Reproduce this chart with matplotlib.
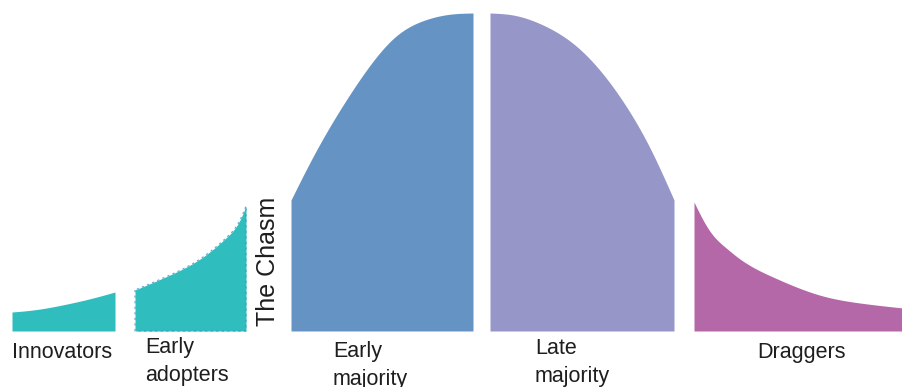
import numpy as np
import matplotlib
matplotlib.use("Agg")
import matplotlib.pyplot as plt

plt.rcParams["font.family"] = ["Liberation Sans", "DejaVu Sans"]

# Adopter groups along the technology adoption life cycle
groups = ["Innovators", "Early\nadopters", "Early\nmajority", "Late\nmajority", "Draggers"]
colors = ["#2fbdbd", "#2fbdbd", "#6594c4", "#9696c8", "#b468a8"]

# Outline of each piece of the adoption curve: horizontal position and height
innovators_x = [12, 33, 67, 93, 115]
innovators_h = [19, 21, 27, 33, 39]

early_adopters_x = [135, 170, 203, 227, 240, 246]
early_adopters_h = [41, 56, 74, 94, 111, 125]

early_majority_x = [291, 305, 325, 345, 368, 395, 425, 452, 473]
early_majority_h = [131, 159, 196, 229, 263, 294, 311, 317, 318]

late_majority_x = [490, 513, 543, 575, 620, 652, 674]
late_majority_h = [318, 316, 306, 286, 234, 179, 131]

draggers_x = [694, 702, 712, 725, 740, 773, 823, 860, 903]
draggers_h = [129, 113, 97, 84, 72, 54, 35, 28, 23]

pieces_x = [innovators_x, early_adopters_x, early_majority_x, late_majority_x, draggers_x]
pieces_h = [innovators_h, early_adopters_h, early_majority_h, late_majority_h, draggers_h]

# Label anchors (left x, top y) for each group
label_x = [12, 145, 333, 535, 757]
label_y = [-11, -6, -10, -7, -11]

chasm_label = "The Chasm"
chasm_x = 268
chasm_y = 70


def smooth_outline(xp, yp, n=400):
    """Natural cubic spline through the outline points."""
    xp = np.asarray(xp, float)
    yp = np.asarray(yp, float)
    m = len(xp)
    hx = np.diff(xp)
    A = np.zeros((m, m))
    r = np.zeros(m)
    A[0, 0] = A[-1, -1] = 1.0
    for k in range(1, m - 1):
        A[k, k - 1] = hx[k - 1]
        A[k, k] = 2 * (hx[k - 1] + hx[k])
        A[k, k + 1] = hx[k]
        r[k] = 6 * ((yp[k + 1] - yp[k]) / hx[k] - (yp[k] - yp[k - 1]) / hx[k - 1])
    M = np.linalg.solve(A, r)
    xs = np.linspace(xp[0], xp[-1], n)
    idx = np.clip(np.searchsorted(xp, xs) - 1, 0, m - 2)
    h = hx[idx]
    a = xp[idx + 1] - xs
    b = xs - xp[idx]
    ys = (M[idx] * a ** 3 / (6 * h) + M[idx + 1] * b ** 3 / (6 * h)
          + (yp[idx] / h - M[idx] * h / 6) * a
          + (yp[idx + 1] / h - M[idx + 1] * h / 6) * b)
    return xs, ys


fig = plt.figure(figsize=(9.03, 3.87), dpi=100)
ax = fig.add_axes([0, 0, 1, 1])
ax.set_xlim(0, 903)
ax.set_ylim(-56, 331)
ax.axis("off")

for i, name in enumerate(groups):
    xs, ys = smooth_outline(pieces_x[i], pieces_h[i])
    ax.fill_between(xs, 0, ys, color=colors[i], linewidth=0, zorder=2)
    if i == 1:
        ax.fill_between(xs, 0, ys, facecolor="none", edgecolor="#3d8fc6",
                        linewidth=0.8, linestyle=(0, (2, 3)), alpha=0.8, zorder=3)
    ax.text(label_x[i], label_y[i], name, ha="left", va="top",
            fontsize=15.5, color="#1e1e1e", linespacing=1.45, zorder=4)

ax.text(chasm_x, chasm_y, chasm_label, rotation=90, ha="center", va="center",
        fontsize=18, color="#1e1e1e", zorder=4)

fig.savefig("out.png", dpi=100)
